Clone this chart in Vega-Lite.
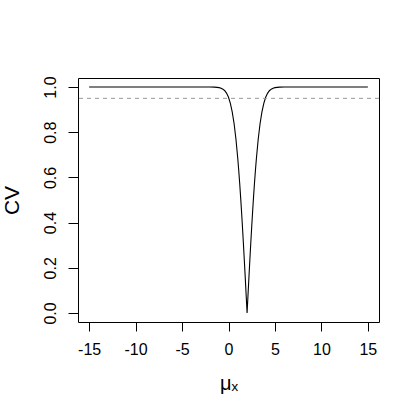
{
  "$schema": "https://vega.github.io/schema/vega-lite/v6.json",
  "autosize": "none",
  "width": 301,
  "height": 244,
  "padding": {"left": 78, "top": 78, "right": 41, "bottom": 98},
  "background": "white",
  "config": {
    "view": {"stroke": "black", "strokeWidth": 1},
    "font": "Liberation Sans"
  },
  "datasets": {
    "curve": [
      {"mu": -15, "cv": 1},
      {"mu": -3, "cv": 1},
      {"mu": -2, "cv": 0.99994},
      {"mu": -1.5, "cv": 0.9995},
      {"mu": -1, "cv": 0.9973},
      {"mu": -0.8, "cv": 0.9949},
      {"mu": -0.6, "cv": 0.9907},
      {"mu": -0.4, "cv": 0.9836},
      {"mu": -0.2, "cv": 0.9722},
      {"mu": 0, "cv": 0.9545},
      {"mu": 0.2, "cv": 0.9281},
      {"mu": 0.4, "cv": 0.8904},
      {"mu": 0.6, "cv": 0.8385},
      {"mu": 0.8, "cv": 0.7699},
      {"mu": 1.0, "cv": 0.6827},
      {"mu": 1.1, "cv": 0.6319},
      {"mu": 1.2, "cv": 0.5763},
      {"mu": 1.3, "cv": 0.5161},
      {"mu": 1.4, "cv": 0.4515},
      {"mu": 1.5, "cv": 0.3829},
      {"mu": 1.6, "cv": 0.3108},
      {"mu": 1.7, "cv": 0.2358},
      {"mu": 1.8, "cv": 0.1585},
      {"mu": 1.9, "cv": 0.0797},
      {"mu": 2.0, "cv": 0},
      {"mu": 2.1, "cv": 0.0797},
      {"mu": 2.2, "cv": 0.1585},
      {"mu": 2.3, "cv": 0.2358},
      {"mu": 2.4, "cv": 0.3108},
      {"mu": 2.5, "cv": 0.3829},
      {"mu": 2.6, "cv": 0.4515},
      {"mu": 2.7, "cv": 0.5161},
      {"mu": 2.8, "cv": 0.5763},
      {"mu": 2.9, "cv": 0.6319},
      {"mu": 3.0, "cv": 0.6827},
      {"mu": 3.2, "cv": 0.7699},
      {"mu": 3.4, "cv": 0.8385},
      {"mu": 3.6, "cv": 0.8904},
      {"mu": 3.8, "cv": 0.9281},
      {"mu": 4.0, "cv": 0.9545},
      {"mu": 4.2, "cv": 0.9722},
      {"mu": 4.4, "cv": 0.9836},
      {"mu": 4.6, "cv": 0.9907},
      {"mu": 4.8, "cv": 0.9949},
      {"mu": 5.0, "cv": 0.9973},
      {"mu": 5.5, "cv": 0.9995},
      {"mu": 6, "cv": 0.99994},
      {"mu": 7, "cv": 1},
      {"mu": 15, "cv": 1}
    ],
    "ref": [{"level": 0.95}]
  },
  "layer": [
    {
      "data": {"name": "curve"},
      "mark": {"type": "line", "color": "black", "strokeWidth": 1.1, "clip": true},
      "encoding": {
        "x": {
          "field": "mu", "type": "quantitative",
          "scale": {"domain": [-16.2, 16.2], "nice": false, "zero": false},
          "axis": {
            "values": [-15, -10, -5, 0, 5, 10, 15],
            "labelExpr": "toString(datum.value)",
            "title": "μₓ", "titleFontSize": 20, "titleFontWeight": "normal",
            "titleColor": "black", "titlePadding": 16,
            "labelFontSize": 16, "labelColor": "black", "labelPadding": 10,
            "tickSize": 9, "tickColor": "black", "domain": false, "grid": false,
            "labelFlush": false, "labelOverlap": false
          }
        },
        "y": {
          "field": "cv", "type": "quantitative",
          "scale": {"domain": [-0.04, 1.04], "nice": false, "zero": false},
          "axis": {
            "values": [0, 0.2, 0.4, 0.6, 0.8, 1.0],
            "format": ".1f",
            "title": "CV", "titleFontSize": 21, "titleFontWeight": "normal",
            "titleColor": "black", "titlePadding": 20,
            "labelFontSize": 16, "labelColor": "black", "labelAngle": -90,
            "labelAlign": "center", "labelBaseline": "bottom", "labelPadding": 10,
            "tickSize": 10, "tickColor": "black", "domain": false, "grid": false,
            "labelFlush": false, "labelOverlap": false
          }
        }
      }
    },
    {
      "data": {"name": "ref"},
      "mark": {"type": "rule", "color": "#999999", "strokeDash": [4, 4], "strokeWidth": 1},
      "encoding": {"y": {"field": "level", "type": "quantitative"}}
    }
  ]
}
